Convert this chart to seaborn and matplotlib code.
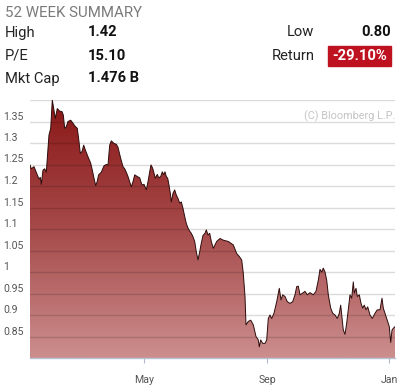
import numpy as np
import pandas as pd
import seaborn as sns
import matplotlib.pyplot as plt
import matplotlib.dates as mdates
from matplotlib.colors import LinearSegmentedColormap
from matplotlib.patches import Rectangle

# 52-week closing prices (days after start)
start = "2014-01-07"
days = [0, 1.3, 4, 7.3, 9, 10.3, 11.3, 13, 14.7, 16.3, 18, 19, 20.7, 22.3, 23.7,
        25.3, 27.3, 29.7, 32, 33.3, 34.7, 36.3, 38, 40.7, 43, 44.7, 47.3, 49, 50.3,
        52, 53.7, 55.3, 58, 60.7, 62.3, 64, 65.7, 67, 68.7, 71.3, 74, 76.3, 78,
        79.7, 81.3, 84, 86.3, 88, 90.7, 93, 94.7, 96.3, 98, 99.7, 101.3, 103, 104.7,
        107.3, 109.7, 112, 114, 116.3, 118, 119.7, 121, 122.7, 124, 125.3, 127.3,
        128.7, 130.7, 132.3, 133.7, 135, 136.3, 137.7, 139, 140.3, 141.3, 143,
        144.7, 146.3, 148, 149.7, 151.3, 153, 154.7, 156.3, 158, 159.7, 161.3, 163,
        164.7, 166.3, 168, 169.7, 171.3, 173, 175, 176.3, 178, 179.7, 181.3, 183.3,
        186.7, 190, 193.3, 198.3, 203.3, 206.7, 209.3, 211.7, 213.3, 215, 216,
        218.3, 220.7, 223.3, 226, 228.3, 229.3, 230.7, 232.7, 235, 236.7, 238.3,
        240, 241.7, 244, 246.7, 249.3, 251, 252.7, 255, 257.3, 260, 262.7, 265,
        266.7, 268.3, 270, 272.7, 275, 277.3, 280, 283.3, 286, 288.3, 290, 291.7,
        293.3, 295, 296.7, 298.3, 300.7, 302.7, 305, 307.3, 309.3, 310.7, 311.7,
        313.3, 315, 316.7, 318.3, 320, 321.7, 323.3, 324.3, 326, 327.3, 329.3, 331,
        332.7, 334.3, 336, 337.7, 340, 342.3, 345, 347.3, 350, 352, 353.3, 355,
        357.3, 359.3, 360.7, 362, 363.3, 365]
close = [1.249, 1.240, 1.245, 1.226, 1.216, 1.220, 1.204, 1.237, 1.240, 1.232,
         1.288, 1.319, 1.334, 1.400, 1.380, 1.357, 1.380, 1.374, 1.373, 1.365,
         1.334, 1.338, 1.350, 1.353, 1.346, 1.340, 1.334, 1.303, 1.276, 1.280,
         1.295, 1.284, 1.268, 1.253, 1.237, 1.218, 1.201, 1.209, 1.226, 1.232,
         1.247, 1.250, 1.249, 1.295, 1.305, 1.299, 1.297, 1.290, 1.264, 1.245,
         1.240, 1.232, 1.222, 1.210, 1.198, 1.210, 1.226, 1.222, 1.219, 1.202,
         1.204, 1.191, 1.210, 1.233, 1.249, 1.241, 1.230, 1.218, 1.227, 1.219,
         1.222, 1.233, 1.226, 1.233, 1.222, 1.218, 1.202, 1.183, 1.163, 1.183,
         1.191, 1.179, 1.171, 1.160, 1.163, 1.148, 1.129, 1.113, 1.102, 1.095,
         1.090, 1.082, 1.071, 1.047, 1.028, 1.047, 1.067, 1.085, 1.090, 1.098,
         1.086, 1.090, 1.071, 1.055, 1.071, 1.078, 1.074, 1.071, 1.063, 1.043,
         1.036, 1.028, 0.997, 0.943, 0.877, 0.885, 0.888, 0.877, 0.850, 0.842,
         0.826, 0.842, 0.834, 0.834, 0.842, 0.892, 0.900, 0.892, 0.904, 0.931,
         0.962, 0.935, 0.947, 0.943, 0.931, 0.927, 0.931, 0.947, 0.966, 0.967,
         0.947, 0.951, 0.955, 0.947, 0.952, 0.947, 0.955, 0.981, 1.006, 1.000,
         1.009, 1.000, 0.981, 0.947, 0.916, 0.904, 0.900, 0.892, 0.904, 0.923,
         0.900, 0.865, 0.855, 0.881, 0.912, 0.947, 0.939, 0.977, 0.951, 0.962,
         0.943, 0.947, 0.927, 0.916, 0.923, 0.912, 0.919, 0.900, 0.892, 0.904,
         0.912, 0.912, 0.939, 0.916, 0.904, 0.888, 0.873, 0.836, 0.865, 0.869,
         0.873]
days = days[:len(close)]

tick_dates = ["2014-05-01", "2014-09-01", "2015-01-01"]
tick_labels = ["May", "Sep", "Jan"]
grid_values = [0.85, 0.9, 0.95, 1.0, 1.05, 1.1, 1.15, 1.2, 1.25, 1.3, 1.35, 1.4]
grid_labels = ["0.85", "0.9", "0.95", "1", "1.05", "1.1", "1.15", "1.2", "1.25",
               "1.3", "1.35", ""]

summary_names = ["High", "P/E", "Mkt Cap"]
summary_values = ["1.42", "15.10", "1.476 B"]
low_value = "0.80"
return_value = "-29.10%"

sns.set_theme(style="white")
plt.rcParams["font.family"] = ["Roboto", "DejaVu Sans"]

df = pd.DataFrame({
    "date": pd.to_datetime(start) + pd.to_timedelta(days, unit="D"),
    "close": close,
})

fig = plt.figure(figsize=(4, 3.9), dpi=100)
ax = fig.add_axes([30 / 400, 1 - 358 / 390, 365 / 400, 258 / 390])

sns.lineplot(data=df, x="date", y="close", color="#2e0c0c", linewidth=0.7,
             ax=ax, zorder=4)

x0 = mdates.date2num(pd.to_datetime(start))
x1 = mdates.date2num(pd.to_datetime(start) + pd.Timedelta(days=365))
ymin, ymax = 0.80, 1.40

poly = ax.fill_between(mdates.date2num(df["date"]), df["close"], ymin,
                       color="none", linewidth=0)
cmap = LinearSegmentedColormap.from_list("red_fade", ["#cc8e8e", "#a64a4a", "#8a1616"])
grad = np.linspace(1, 0, 256).reshape(-1, 1)
im = ax.imshow(grad, extent=[x0, x1, ymin, ymax], aspect="auto", cmap=cmap,
               origin="upper", zorder=1)
im.set_clip_path(poly.get_paths()[0], transform=ax.transData)

ax.set_xlim(x0, x1)
ax.set_ylim(ymin, ymax)

# horizontal grid drawn over the fill
for v in grid_values:
    ax.axhline(v, color="black", alpha=0.14, linewidth=1, zorder=3)

ax.set_yticks(grid_values)
ax.set_yticklabels(grid_labels)
ax.tick_params(axis="y", length=0, pad=19.5, labelsize=7.6, labelcolor="#555555")
for lab in ax.get_yticklabels():
    lab.set_horizontalalignment("left")
    lab.set_verticalalignment("bottom")

ax.set_xticks(mdates.date2num(pd.to_datetime(tick_dates)))
ax.set_xticklabels(tick_labels)
ax.tick_params(axis="x", length=3.5, width=0.8, color="#b0b8c8", pad=8.5,
               labelsize=7.6, labelcolor="#555555", bottom=True)
ax.set_xlabel("")
ax.set_ylabel("")
for side in ["top", "left", "right"]:
    ax.spines[side].set_visible(False)
ax.spines["bottom"].set_color("#b9c3d6")
ax.spines["bottom"].set_linewidth(1)

ax.text(1.0, 1 - 19 / 258, "(C) Bloomberg L.P.", transform=ax.transAxes,
        ha="right", va="baseline", fontsize=7.8, color="#c4c4c4")


def px(x, y):
    return x / 400, 1 - y / 390


fig.text(*px(5, 16.7), "52 WEEK SUMMARY", fontsize=10.8, color="#7a7a7a", va="baseline")
for i, (name, val) in enumerate(zip(summary_names, summary_values)):
    base = 36.5 + i * 23
    fig.text(*px(5, base), name, fontsize=10.6, color="#222222", va="baseline")
    fig.text(*px(87.5, base), val, fontsize=10.6, color="#111111",
             fontweight="bold", va="baseline")

fig.text(*px(314.5, 36.5), "Low", fontsize=10.6, color="#222222", ha="right", va="baseline")
fig.text(*px(390.5, 36.5), low_value, fontsize=10.6, color="#111111",
         fontweight="bold", ha="right", va="baseline")
fig.text(*px(314.5, 59.5), "Return", fontsize=10.6, color="#222222", ha="right", va="baseline")
fig.patches.append(Rectangle(px(327.7, 66), 63 / 400, 20 / 390,
                             transform=fig.transFigure, color="#bf1220"))
fig.text(*px(359.2, 59.5), return_value, fontsize=10.6, color="white",
         fontweight="bold", ha="center", va="baseline")

fig.savefig("out.png", dpi=100, facecolor="white")
